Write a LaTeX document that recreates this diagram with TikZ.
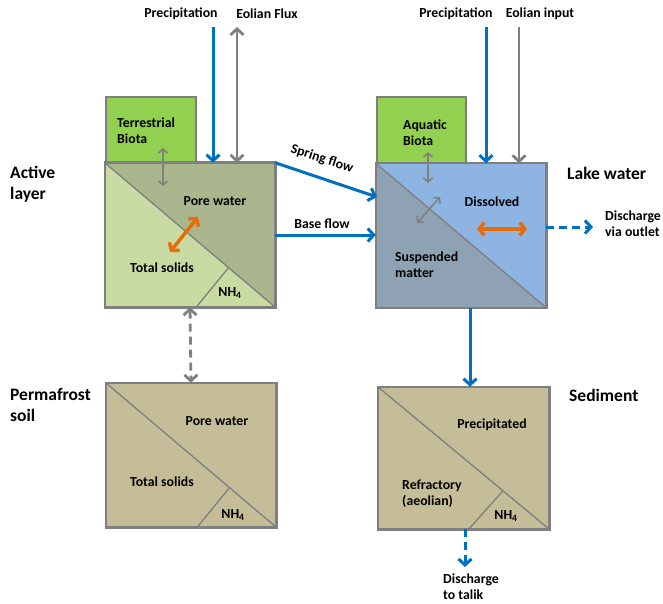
\documentclass[tikz,border=0pt]{standalone}
\usepackage{fontspec}
\setmainfont{Carlito}
\usetikzlibrary{arrows.meta,calc}
\definecolor{bordergray}{HTML}{7F7F7F}
\definecolor{biota}{HTML}{92D050}
\definecolor{alight}{HTML}{C9DBA3}
\definecolor{adark}{HTML}{AAB78E}
\definecolor{lakeblue}{HTML}{8EB4E3}
\definecolor{lakegray}{HTML}{8EA2B4}
\definecolor{soiltan}{HTML}{C4BD97}
\definecolor{arrblue}{HTML}{0070C0}
\definecolor{arrgray}{HTML}{808080}
\definecolor{arrorange}{HTML}{E46C0A}
\tikzset{
  box/.style={draw=bordergray, line width=2.5pt, minimum width=168pt, minimum height=142pt, inner sep=0pt},
  biobox/.style={draw=bordergray, line width=2.5pt, fill=biota, inner sep=0pt},
  divline/.style={draw=bordergray, line width=1.3pt},
  txt/.style={font=\bfseries\fontsize{13.8}{16}\selectfont, inner sep=0pt, align=left},
  bigtxt/.style={font=\bfseries\fontsize{17.5}{21}\selectfont, inner sep=0pt, align=left, anchor=west},
  bluearr/.style={draw=arrblue, line width=3pt, -{Straight Barb[length=6pt,width=13pt,line width=3pt]}},
  grayarr/.style={draw=arrgray, line width=2.8pt, -{Straight Barb[length=6pt,width=13pt,line width=2.8pt]}},
  graydbl/.style={draw=arrgray, line width=2.8pt, {Straight Barb[length=6pt,width=13pt,line width=2.8pt]}-{Straight Barb[length=6pt,width=13pt,line width=2.8pt]}},
  thindbl/.style={draw=arrgray, line width=1.6pt, {Straight Barb[length=4pt,width=9pt,line width=1.6pt]}-{Straight Barb[length=4pt,width=9pt,line width=1.6pt]}},
  orangedbl/.style={draw=arrorange, line width=3.5pt, {Straight Barb[length=5pt,width=13pt,line width=3.5pt]}-{Straight Barb[length=5pt,width=13pt,line width=3.5pt]}},
  bluedash/.style={bluearr, dash pattern=on 8pt off 5pt},
  graydash/.style={graydbl, dash pattern=on 8pt off 5pt},
}
\begin{document}
\begin{tikzpicture}[x=1pt,y=-1pt]
\useasboundingbox[fill=white] (0,0) rectangle (663,604);

% biota boxes
\node[biobox, minimum width=90pt, minimum height=67pt] (TB) at (151,130.5) {};
\node[biobox, minimum width=89pt, minimum height=67pt] (AB) at (421.5,130.5) {};

% main boxes
\node[box] (AL) at (190,235) {};
\node[box] (LW) at (461,235.5) {};
\node[box] (PF) at (191,455) {};
\node[box, minimum width=169pt, minimum height=140pt] (SD) at (463.5,458) {};

% fills
\fill[alight] (AL.north west) -- (AL.south east) -- (AL.south west) -- cycle;
\fill[adark] (AL.north west) -- (AL.north east) -- (AL.south east) -- cycle;
\fill[lakegray] (LW.north west) -- (LW.south east) -- (LW.south west) -- cycle;
\fill[lakeblue] (LW.north west) -- (LW.north east) -- (LW.south east) -- cycle;
\fill[soiltan] (PF.north west) rectangle (PF.south east);
\fill[soiltan] (SD.north west) rectangle (SD.south east);

% dividing lines
\foreach \b in {AL,LW,PF,SD} {
  \draw[divline] (\b.north west) -- (\b.south east);
}
\foreach \b/\f/\g in {AL/0.726/0.536, PF/0.726/0.536, SD/0.73/0.53} {
  \draw[divline] ($(\b.north west)!\f!(\b.south east)$) -- ($(\b.south west)!\g!(\b.south east)$);
}

% borders redrawn
\foreach \b in {AL,LW,PF,SD} {
  \draw[draw=bordergray, line width=2.5pt] (\b.north west) rectangle (\b.south east);
}

% top labels
\node[txt] (precL) at (181,14) {Precipitation};
\node[txt] (eolL) at (267,14) {Eolian Flux};
\node[txt] (precR) at (456,14) {Precipitation};
\node[txt] (eolR) at (540,14) {Eolian input};

\coordinate (p1) at (213,27);
\coordinate (e1) at (237,27);
\coordinate (p2) at (486,27);
\coordinate (e2) at (519,27);
\draw[bluearr] (p1) -- (p1 |- AL.north);
\draw[graydbl] (e1) -- (e1 |- AL.north);
\draw[bluearr] (p2) -- (p2 |- LW.north);
\draw[grayarr] (e2) -- (e2 |- LW.north);

% biota texts
\node[txt, anchor=west] (tbt) at (117,130.5) {Terrestrial\\Biota};
\node[txt, anchor=west] (abt) at (403,132.5) {Aquatic\\Biota};

% inner texts
\node[txt] (alpw) at (215,201) {Pore water};
\node[txt] (alts) at (162,268) {Total solids};
\node[txt] (alnh) at (230,293) {NH\textsubscript{4}};
\node[txt] (lwd) at (492,202) {Dissolved};
\node[txt, anchor=west] (lws) at (395,265) {Suspended\\matter};
\node[txt] (pfpw) at (217,421) {Pore water};
\node[txt] (pfts) at (162,482) {Total solids};
\node[txt] (pfnh) at (233,515) {NH\textsubscript{4}};
\node[txt] (sdp) at (492,425) {Precipitated};
\node[txt, anchor=west] (sdr) at (402,493.5) {Refractory\\(aeolian)};
\node[txt] (sdnh) at (506,516) {NH\textsubscript{4}};

% side labels
\node[bigtxt] (lact) at (10,184.5) {Active\\layer};
\node[bigtxt] (lperm) at (10,405) {Permafrost\\soil};
\node[bigtxt] (llake) at (567,173) {Lake water};
\node[bigtxt] (lsed) at (569,395) {Sediment};

% internal arrows
\coordinate (tb1) at (163,148);
\coordinate (tb2) at (163,186);
\draw[thindbl] (tb1) -- (tb2);
\coordinate (ab1) at (428,152);
\coordinate (ab2) at (428,183);
\draw[thindbl] (ab1) -- (ab2);
\coordinate (ld1) at (440,197);
\coordinate (ld2) at (417,223);
\draw[thindbl] (ld1) -- (ld2);
\coordinate (o1) at (198,217);
\coordinate (o2) at (170,252);
\draw[orangedbl] (o1) -- (o2);
\coordinate (o3) at (477,229);
\coordinate (o4) at (527,229);
\draw[orangedbl] (o3) -- (o4);

% flows between boxes
\coordinate (sf) at (377,197);
\draw[bluearr] (AL.north east) -- (sf);
\node[txt, rotate=-18] (sft) at (322,159) {Spring flow};
\draw[bluearr] (AL.east) -- (AL.east -| LW.west);
\node[txt] (bft) at (322,224) {Base flow};

\draw[graydash] (AL.south) -- (PF.north);

\coordinate (xa) at (470,0);
\draw[bluearr] (xa |- LW.south) -- (xa |- SD.north);

\coordinate (dv) at (593,227);
\draw[bluedash] (dv -| LW.east) -- (dv);
\node[txt, anchor=west] (dvt) at (605,223.5) {Discharge\\via outlet};

\coordinate (dt) at (465,567);
\draw[bluedash] (dt |- SD.south) -- (dt);
\node[txt, anchor=west] (dtt) at (443,587) {Discharge\\to talik};
\end{tikzpicture}
\end{document}
